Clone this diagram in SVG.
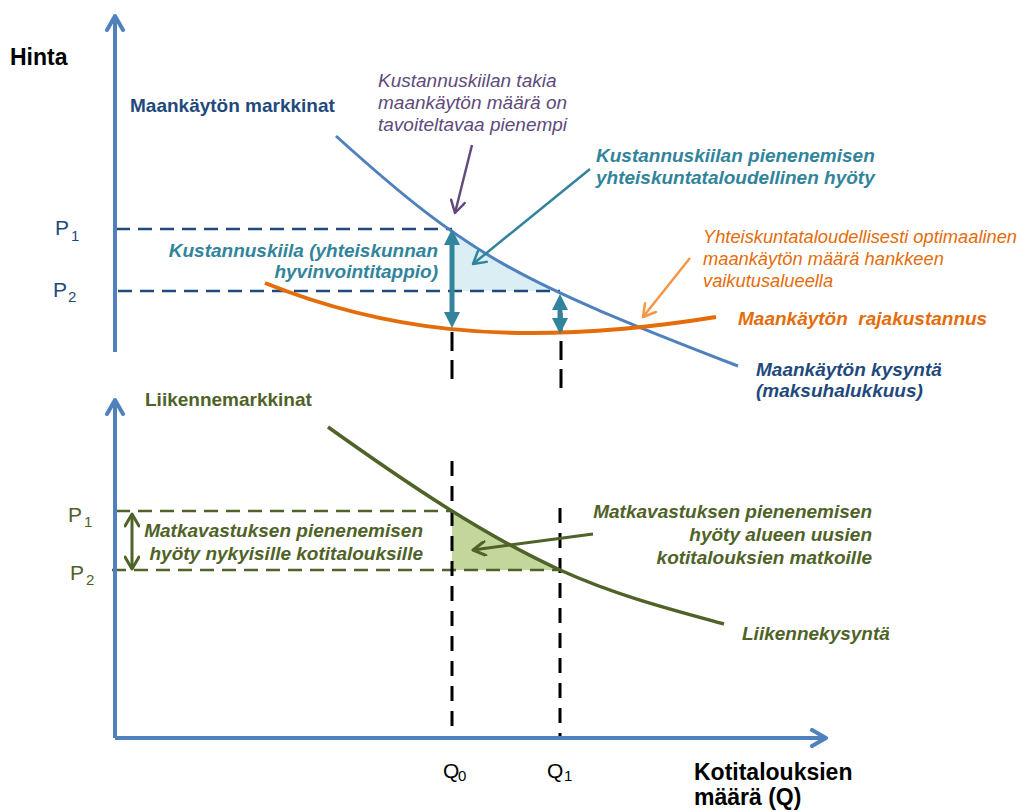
<svg xmlns="http://www.w3.org/2000/svg" width="1030" height="812" viewBox="0 0 1030 812">
<style>
text{font-family:"Liberation Sans",Arial,sans-serif}
.b{font-weight:bold}
.i{font-style:italic}
.axis{stroke:#4F81BD;stroke-width:4;fill:none}
.dblue{stroke:#1F497D;stroke-width:2.5;stroke-dasharray:14 8;fill:none}
.dolive{stroke:#4F6228;stroke-width:2.5;stroke-dasharray:14 8;fill:none}
.dblack{stroke:#000;stroke-width:3;stroke-dasharray:15 10;fill:none}
.dblack2{stroke:#000;stroke-width:3;stroke-dasharray:19 9;fill:none}
.lbl{font-size:19px}
</style>
<defs>
<marker id="axisHead" viewBox="0 0 20 20" refX="17" refY="10" markerWidth="20" markerHeight="20" markerUnits="userSpaceOnUse" orient="auto"><path d="M3,2 L17,10 L3,18" fill="none" stroke="#4F81BD" stroke-width="4" stroke-linecap="round" stroke-linejoin="round"/></marker>
<marker id="tealHead" viewBox="0 0 16 16" refX="4" refY="8" markerWidth="16" markerHeight="16" markerUnits="userSpaceOnUse" orient="auto-start-reverse"><path d="M0,0 L16,8 L0,16 Z" fill="#31849B"/></marker>
<marker id="oliveOpen" viewBox="0 0 16 16" refX="14" refY="8" markerWidth="16" markerHeight="16" markerUnits="userSpaceOnUse" orient="auto-start-reverse"><path d="M2,1 L14,8 L2,15" fill="none" stroke="#4F6228" stroke-width="3" stroke-linecap="round" stroke-linejoin="round"/></marker>
<marker id="purpleOpen" viewBox="0 0 16 16" refX="14" refY="8" markerWidth="16" markerHeight="16" markerUnits="userSpaceOnUse" orient="auto"><path d="M2,1 L14,8 L2,15" fill="none" stroke="#604A7B" stroke-width="2.5" stroke-linecap="round" stroke-linejoin="round"/></marker>
<marker id="tealOpen" viewBox="0 0 16 16" refX="14" refY="8" markerWidth="16" markerHeight="16" markerUnits="userSpaceOnUse" orient="auto"><path d="M2,1 L14,8 L2,15" fill="none" stroke="#31849B" stroke-width="2.5" stroke-linecap="round" stroke-linejoin="round"/></marker>
<marker id="orangeOpen" viewBox="0 0 16 16" refX="14" refY="8" markerWidth="16" markerHeight="16" markerUnits="userSpaceOnUse" orient="auto"><path d="M2,1 L14,8 L2,15" fill="none" stroke="#F79646" stroke-width="2.5" stroke-linecap="round" stroke-linejoin="round"/></marker>
</defs>

<g id="areas">
<path d="M452,229 Q501,268 560,291 L452,291 Z" fill="#DAEEF3"/>
<path d="M452,511 Q506,545 560,570 L452,570 Z" fill="#C3D69B"/>
</g>

<g id="guides">
<line class="dblue" x1="116" y1="229" x2="452" y2="229"/>
<line class="dblue" x1="118" y1="291" x2="560" y2="291"/>
<line class="dolive" x1="116" y1="511" x2="452" y2="511"/>
<line class="dolive" x1="112" y1="570" x2="560" y2="570"/>
<line class="dblack2" x1="452" y1="332" x2="452" y2="381"/>
<line class="dblack2" x1="561" y1="313" x2="561" y2="390"/>
<line class="dblack" x1="452" y1="461" x2="452" y2="738"/>
<line class="dblack" x1="560" y1="508" x2="560" y2="738"/>
</g>

<g id="axes">
<line class="axis" x1="115" y1="352" x2="115" y2="16" marker-end="url(#axisHead)"/>
<line class="axis" x1="115" y1="738" x2="115" y2="400" marker-end="url(#axisHead)"/>
<line class="axis" x1="115" y1="738" x2="826" y2="738" marker-end="url(#axisHead)"/>
</g>

<g id="curves">
<path id="demand-land" d="M336,136 C470,257 515,280 738,366" fill="none" stroke="#4F81BD" stroke-width="3"/>
<path id="marginal-cost" d="M265,283 C370,325 500,352 716,317" fill="none" stroke="#E46C0A" stroke-width="4"/>
<path id="demand-traffic" d="M328,427 C405,482 483,535 560,570 C615,595 669,609 724,624" fill="none" stroke="#4F6228" stroke-width="3.5"/>
</g>

<g id="connectors">
<line x1="452" y1="241" x2="452" y2="316" stroke="#31849B" stroke-width="5" marker-start="url(#tealHead)" marker-end="url(#tealHead)"/>
<line x1="560" y1="306" x2="560" y2="322" stroke="#31849B" stroke-width="5" marker-start="url(#tealHead)" marker-end="url(#tealHead)"/>
<line x1="132" y1="514" x2="132" y2="569" stroke="#4F6228" stroke-width="3" marker-start="url(#oliveOpen)" marker-end="url(#oliveOpen)"/>
<line x1="472" y1="145" x2="455" y2="213" stroke="#604A7B" stroke-width="2.5" marker-end="url(#purpleOpen)"/>
<line x1="590" y1="169" x2="473" y2="264" stroke="#31849B" stroke-width="2.5" marker-end="url(#tealOpen)"/>
<line x1="690" y1="258" x2="643" y2="317" stroke="#F79646" stroke-width="2.5" marker-end="url(#orangeOpen)"/>
<line x1="593" y1="534" x2="473" y2="550" stroke="#4F6228" stroke-width="3" marker-end="url(#oliveOpen)"/>
</g>

<g id="labels">
<text class="b" x="10" y="65" font-size="23" fill="#000">Hinta</text>
<text class="b lbl" x="130" y="112" fill="#1F497D">Maankäytön markkinat</text>
<g id="p-top" fill="#1F497D">
<text x="55" y="235" font-size="21">P</text><text x="71" y="241" font-size="15">1</text>
<text x="53" y="297" font-size="21">P</text><text x="68" y="302" font-size="15">2</text>
</g>
<text class="i lbl" fill="#604A7B"><tspan x="378" y="87">Kustannuskiilan takia</tspan><tspan x="378" y="109">maankäytön määrä on</tspan><tspan x="378" y="131">tavoiteltavaa pienempi</tspan></text>
<text class="b i lbl" fill="#31849B"><tspan x="596" y="162">Kustannuskiilan pienenemisen</tspan><tspan x="596" y="184">yhteiskuntataloudellinen hyöty</tspan></text>
<text class="b i lbl" fill="#31849B" text-anchor="end"><tspan x="438" y="257">Kustannuskiila (yhteiskunnan</tspan><tspan x="438" y="278">hyvinvointitappio)</tspan></text>
<text class="i" font-size="18.3" fill="#E46C0A"><tspan x="703" y="243">Yhteiskuntataloudellisesti optimaalinen</tspan><tspan x="703" y="265">maankäytön määrä hankkeen</tspan><tspan x="703" y="287">vaikutusalueella</tspan></text>
<text class="b i lbl" x="738" y="325" fill="#E46C0A" style="white-space:pre">Maankäytön  rajakustannus</text>
<text class="b i lbl" fill="#1F497D"><tspan x="756" y="376">Maankäytön kysyntä</tspan><tspan x="756" y="397">(maksuhalukkuus)</tspan></text>

<text class="b lbl" x="145" y="406" fill="#4F6228">Liikennemarkkinat</text>
<g id="p-bottom" fill="#4F6228">
<text x="68" y="522" font-size="21">P</text><text x="84" y="527" font-size="15">1</text>
<text x="70" y="580" font-size="21">P</text><text x="86" y="585" font-size="15">2</text>
</g>
<text class="b i lbl" fill="#4F6228" text-anchor="end"><tspan x="423" y="537">Matkavastuksen pienenemisen</tspan><tspan x="423" y="560">hyöty nykyisille kotitalouksille</tspan></text>
<text class="b i lbl" fill="#4F6228" text-anchor="end"><tspan x="872" y="518">Matkavastuksen pienenemisen</tspan><tspan x="872" y="541">hyöty alueen uusien</tspan><tspan x="872" y="564">kotitalouksien matkoille</tspan></text>
<text class="b i lbl" x="742" y="640" fill="#4F6228">Liikennekysyntä</text>

<g id="q-labels" fill="#000">
<text x="443" y="778" font-size="21">Q</text><text x="458" y="781" font-size="15">0</text>
<text x="547" y="778" font-size="21">Q</text><text x="564" y="781" font-size="15">1</text>
</g>
<text class="b" font-size="23" fill="#000"><tspan x="694" y="780">Kotitalouksien</tspan><tspan x="694" y="805">määrä (Q)</tspan></text>
</g>
</svg>
